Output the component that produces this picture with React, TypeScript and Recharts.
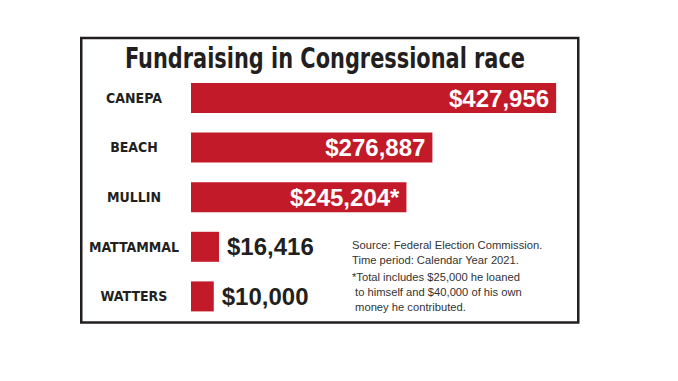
import React from 'react';
import { BarChart, Bar, XAxis, YAxis, LabelList } from 'recharts';

const candidates = ['CANEPA', 'BEACH', 'MULLIN', 'MATTAMMAL', 'WATTERS'];
const amounts = [427956, 276887, 245204, 16416, 10000];
const valueLabels = ['$427,956', '$276,887', '$245,204*', '$16,416', '$10,000'];
const titleText = 'Fundraising in Congressional race';
const noteLines = [
  'Source: Federal Election Commission.',
  'Time period: Calendar Year 2021.',
  '*Total includes $25,000 he loaned',
  ' to himself and $40,000 of his own',
  ' money he contributed.',
];

const data = candidates.map((name, i) => ({ name, value: amounts[i], label: valueLabels[i] }));

const BASE = -17800;
const DMAX = 440000;
const RED = '#c21a28';
const INK = '#231f20';

const CatTick = (props: any) => {
  const { x, y, payload } = props;
  return (
    <text x={x - 57} y={y} dy={5} textAnchor="middle" fill={INK}
      style={{ fontFamily: '"DejaVu Sans Condensed", "DejaVu Sans", sans-serif', fontWeight: 700, fontSize: 14 }}>
      {payload.value}
    </text>
  );
};

const ValueLabel = (props: any) => {
  const { x, y, width, height, value, index } = props;
  const inside = amounts[index] > 100000;
  const tx = inside ? x + width - 7 : x + width + 8;
  return (
    <text x={tx} y={y + height / 2} dy={8.5} textAnchor={inside ? 'end' : 'start'} fill={inside ? '#ffffff' : INK}
      style={{ fontFamily: '"Liberation Sans", Arial, sans-serif', fontWeight: 700, fontSize: 24 }}>
      {value}
    </text>
  );
};

export default function App() {
  return (
    <div style={{ position: 'absolute', left: 0, top: 0, width: 678, height: 381, background: '#fff' }}>
      <div style={{ position: 'absolute', left: 0, top: 0 }}>
        <BarChart width={678} height={381} data={data} layout="vertical"
          margin={{ left: 80, right: 112, top: 73, bottom: 60 }}>
          <XAxis type="number" domain={[BASE, DMAX]} hide allowDataOverflow />
          <YAxis type="category" dataKey="name" width={111} axisLine={false} tickLine={false}
            tickSize={0} tickMargin={0} tick={<CatTick />} interval={0} />
          <Bar dataKey={(d: any) => [BASE, d.value]} fill={RED} barSize={30} isAnimationActive={false}>
            <LabelList dataKey="label" content={<ValueLabel />} />
          </Bar>
        </BarChart>
      </div>
      <svg width={678} height={381} style={{ position: 'absolute', left: 0, top: 0, pointerEvents: 'none' }}>
        <rect x={81.25} y={38} width={497} height={284.5} fill="none" stroke={INK} strokeWidth={2.5} />
        <text x={325} y={68} textAnchor="middle" fill={INK} textLength={400} lengthAdjust="spacingAndGlyphs"
          style={{ fontFamily: '"DejaVu Sans Condensed", "DejaVu Sans", sans-serif', fontWeight: 700, fontSize: 29 }}>
          {titleText}
        </text>
        {noteLines.map((line, i) => (
          <text key={i} x={352} y={249 + i * 15 + (i >= 2 ? 2 : 0)} fill="#333" xmlSpace="preserve"
            style={{ fontFamily: '"Liberation Sans", Arial, sans-serif', fontSize: 11.2, whiteSpace: 'pre' }}>
            {line}
          </text>
        ))}
      </svg>
    </div>
  );
}
